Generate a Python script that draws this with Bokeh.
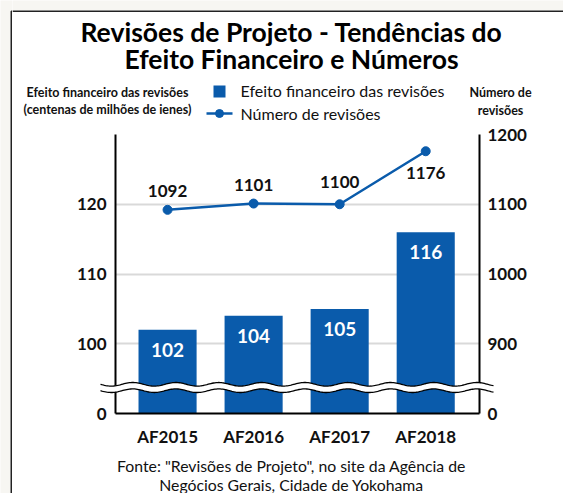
import numpy as np
from bokeh.plotting import figure
from bokeh.layouts import row, column
from bokeh.models import Range1d, FixedTicker, LinearAxis, ColumnDataSource
from bokeh.core.properties import value
from bokeh.embed import file_html
from bokeh.resources import INLINE

# ---------------- data ----------------
categories = ["AF2015", "AF2016", "AF2017", "AF2018"]
financial_effect = [102, 104, 105, 116]          # centenas de milhões de ienes
revision_counts = [1092, 1101, 1100, 1176]       # número de revisões
left_tick_values = [0, 100, 110, 120]
right_tick_values = [0, 900, 1000, 1100, 1200]

title_lines = ["Revisões de Projeto - Tendências do", "Efeito Financeiro e Números"]
left_title_lines = ["Efeito financeiro das revisões", "(centenas de milhões de ienes)"]
right_title_lines = ["Número de", "revisões"]
legend_labels = ["Efeito financeiro das revisões", "Número de revisões"]
source_lines = ['Fonte: "Revisões de Projeto", no site da Agência de',
                "Negócios Gerais, Cidade de Yokohama"]

# ---------------- styling ----------------
BLUE = "#0a5bab"
BEIGE = "#f7f6f2"
EDGE = "#222222"
TXT = "#111111"
FONT = "Lato"
PAGE_W, PAGE_H = 563, 493
CARD = 12                                   # card content starts here (page px)
HEAD_B, MAIN_B = 124, 450                   # page y where header / main end
FL, FR, FT, FB = 115, 479, 134, 413         # main frame edges in page px
X0, X1 = -0.605, 3.625
Y0, Y1 = 0, 40


def left_disp(v):
    # broken axis: 0 stays at 0, values from 100 upward shifted down by 90
    return 0 if v == 0 else v - 90


def right_disp(n):
    return 0 if n == 0 else (n - 900) / 10 + 10


def X(sx):
    return X0 + (sx - FL) * (X1 - X0) / (FR - FL)


def Y(sy):
    return Y0 + (FB - sy) * (Y1 - Y0) / (FB - FT)


def no_align(f):
    try:
        f.frame_align = False
    except Exception:
        pass
    return f


def blank(x0, x1, y0, y1, fill="white"):
    # figure whose frame is the whole canvas, in page pixel coordinates (y down)
    f = figure(width=x1 - x0, height=y1 - y0,
               x_range=Range1d(x0, x1), y_range=Range1d(y1, y0),
               output_backend="svg", toolbar_location=None, title=None,
               x_axis_type=None, y_axis_type=None, min_border=0,
               outline_line_color=None, background_fill_color=fill,
               border_fill_color=fill)
    return no_align(f)


def txt(f, s, x, y, size, bold=False, align="center", color=TXT):
    f.text(x=[x], y=[y], text=[s], text_align=align, text_baseline="middle",
           text_font=value(FONT), text_font_size=size,
           text_font_style="bold" if bold else "normal", text_color=color)


# ---------------- card edges ----------------
left_strip = blank(0, CARD, 0, PAGE_H, fill=BEIGE)
left_strip.quad(left=10, right=CARD, top=10, bottom=PAGE_H, fill_color="white", line_color=None)
left_strip.line([10.75, 10.75, CARD], [PAGE_H, 10.75, 10.75], line_color=EDGE, line_width=1.5)

top_strip = blank(CARD, PAGE_W, 0, CARD, fill=BEIGE)
top_strip.quad(left=CARD, right=PAGE_W, top=10, bottom=CARD, fill_color="white", line_color=None)
top_strip.line([CARD, PAGE_W], [10.75, 10.75], line_color=EDGE, line_width=1.5)

# ---------------- header: title, axis titles, legend ----------------
head = blank(CARD, PAGE_W, CARD, HEAD_B)
txt(head, title_lines[0], 291, 31, "26.5px", bold=True, color="#000000")
txt(head, title_lines[1], 291, 58, "26.5px", bold=True, color="#000000")
txt(head, left_title_lines[0], 107, 92, "12.5px", bold=True)
txt(head, left_title_lines[1], 107, 109, "12.5px", bold=True)
txt(head, right_title_lines[0], 500, 92, "12.5px", bold=True)
txt(head, right_title_lines[1], 500, 110, "12.5px", bold=True)
head.quad(left=213, right=225, top=85, bottom=97, fill_color=BLUE, line_color=None)
head.line([206, 232], [113, 113], line_color=BLUE, line_width=2.5)
head.scatter([219], [113], size=8, fill_color=BLUE, line_color=BLUE)
txt(head, legend_labels[0], 240, 90, "16px", align="left")
txt(head, legend_labels[1], 240, 113, "16px", align="left")

# ---------------- main chart ----------------
p = figure(width=PAGE_W - CARD, height=MAIN_B - HEAD_B,
           x_range=Range1d(X0, X1), y_range=Range1d(Y0, Y1),
           output_backend="svg", toolbar_location=None, title=None,
           min_border_left=FL - CARD, min_border_right=PAGE_W - FR,
           min_border_top=FT - HEAD_B, min_border_bottom=MAIN_B - FB,
           border_fill_color="white", background_fill_color="white",
           outline_line_color=None)
no_align(p)

xpos = list(range(len(categories)))
bar_src = ColumnDataSource(dict(x=xpos, top=[left_disp(v) for v in financial_effect],
                                label=[str(v) for v in financial_effect]))
p.vbar(x="x", top="top", bottom=0, width=0.675, source=bar_src,
       fill_color=BLUE, line_color=None)
p.text(x="x", y="top", text="label", source=bar_src, y_offset=20,
       text_align="center", text_baseline="middle", text_color="white",
       text_font=value(FONT), text_font_style="bold", text_font_size="19px")

line_offsets = [-19, -19, -22, 22]
line_src = ColumnDataSource(dict(x=xpos, y=[right_disp(n) for n in revision_counts],
                                 label=[str(n) for n in revision_counts],
                                 off=line_offsets))
p.line(x="x", y="y", source=line_src, line_color=BLUE, line_width=2.5)
p.scatter(x="x", y="y", source=line_src, size=9, fill_color=BLUE, line_color=BLUE)
p.text(x="x", y="y", text="label", source=line_src, y_offset="off",
       text_align="center", text_baseline="middle", text_color=TXT,
       text_font=value(FONT), text_font_style="bold", text_font_size="17px")


def style_axis(ax):
    ax.axis_line_color = "black"
    ax.axis_line_width = 2
    ax.major_tick_line_color = None
    ax.minor_tick_line_color = None
    ax.major_tick_out = 0
    ax.major_tick_in = 0
    ax.major_label_text_font = FONT
    ax.major_label_text_font_style = "bold"
    ax.major_label_text_font_size = "17px"
    ax.major_label_text_color = TXT


xa = p.xaxis[0]
xa.ticker = FixedTicker(ticks=xpos)
xa.major_label_overrides = {i: c for i, c in zip(xpos, categories)}
style_axis(xa)
xa.major_label_standoff = 12

ya = p.yaxis[0]
ya.ticker = FixedTicker(ticks=[left_disp(v) for v in left_tick_values])
ya.major_label_overrides = {left_disp(v): str(v) for v in left_tick_values}
style_axis(ya)
ya.major_label_standoff = 9

ra = LinearAxis(ticker=FixedTicker(ticks=[right_disp(n) for n in right_tick_values]),
                major_label_overrides={right_disp(n): str(n) for n in right_tick_values})
style_axis(ra)
ra.major_label_standoff = 8
p.add_layout(ra, "right")

p.xgrid.visible = False
p.ygrid.ticker = FixedTicker(ticks=[10, 20, 30, 40])
p.ygrid.grid_line_color = "#d9d9d9"
p.ygrid.grid_line_width = 2

# axis break (wavy white band with black edges)
sxs = np.linspace(100, 493, 300)
wave = 1.8 * np.sin(2 * np.pi * (sxs - 100) / 43.0)
top_sy = 387 - 3.2 + wave
bot_sy = 387 + 3.2 + wave
p.patch(x=[X(s) for s in np.concatenate([sxs, sxs[::-1]])],
        y=[Y(s) for s in np.concatenate([top_sy, bot_sy[::-1]])],
        fill_color="white", line_color=None, level="overlay")
p.multi_line(xs=[[X(s) for s in sxs], [X(s) for s in sxs]],
             ys=[[Y(s) for s in top_sy], [Y(s) for s in bot_sy]],
             line_color="black", line_width=1.3, level="overlay")

# ---------------- footer ----------------
foot = blank(CARD, PAGE_W, MAIN_B, PAGE_H)
txt(foot, source_lines[0], 291, 465, "15.8px")
txt(foot, source_lines[1], 291, 484, "15.8px")

layout = row(left_strip, column(top_strip, head, p, foot, spacing=0), spacing=0)
open("out.html", "w").write(file_html(layout, INLINE))
